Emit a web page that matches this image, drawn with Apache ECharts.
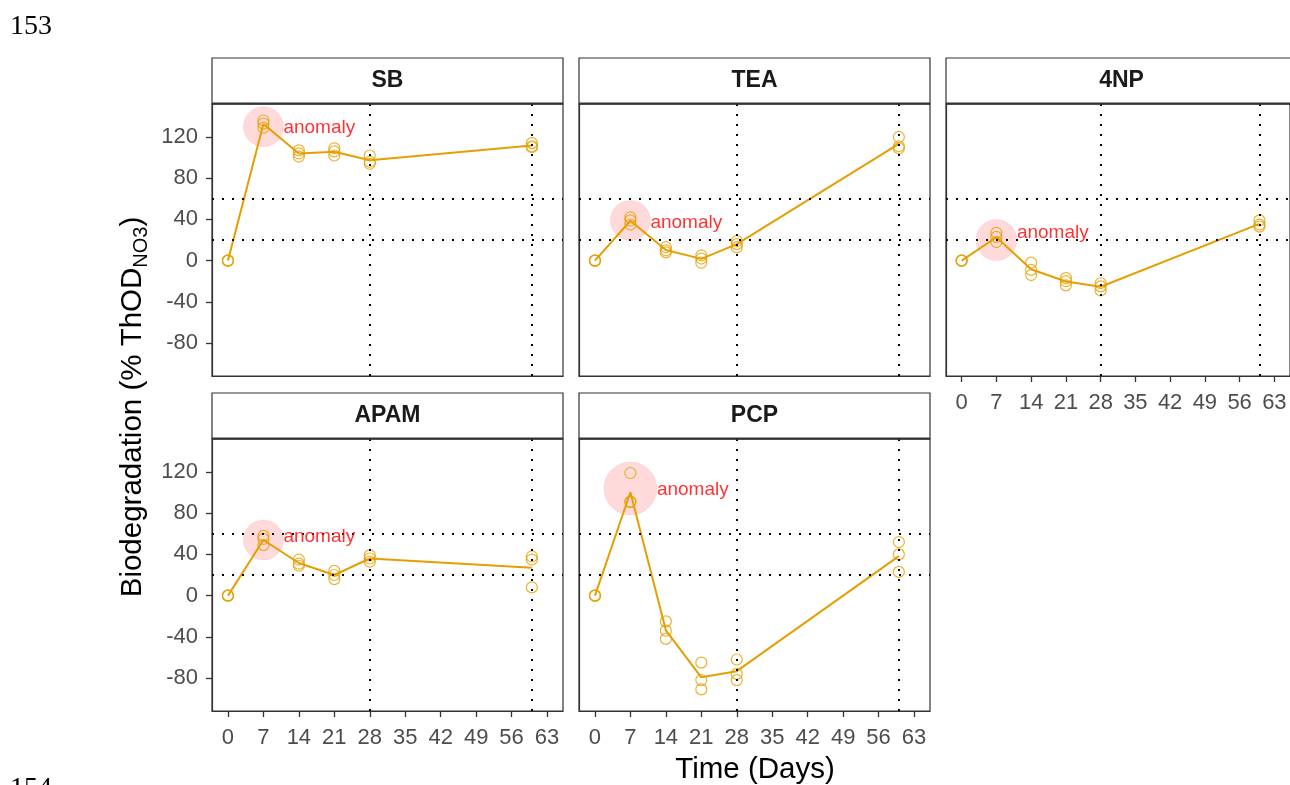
<!DOCTYPE html>
<html>
<head>
<meta charset="utf-8">
<script src="https://cdn.jsdelivr.net/npm/echarts@6/dist/echarts.min.js"></script>
<style>
html, body { margin: 0; padding: 0; background: #fff; }
#chart { width: 1290px; height: 785px; }
</style>
</head>
<body>
<div id="chart"></div>
<script>
// Sampling days and facet names
const panelNames = ['SB', 'TEA', '4NP', 'APAM', 'PCP'];
const days = [0, 7, 14, 21, 28, 60];

// Replicate measurements (% ThOD NO3) per sampling day
const sbReps   = [[0, 0, 0], [136, 133, 129], [107, 104, 101], [109, 106, 102], [102, 96, 94], [114, 111, 110]];
const teaReps  = [[0, 0, 0], [42, 39, 35], [13, 10, 8], [5, 2, -2], [19, 16, 13], [120, 111, 109]];
const np4Reps  = [[0, 0, 0], [27, 23, 18], [-2, -9, -14], [-17, -20, -24], [-22, -25, -29], [39, 35, 33]];
const apamReps = [[0, 0, 0], [58, 55, 49], [35, 31, 29], [24, 20, 16], [39, 36, 33], [38, 35, 8]];
const pcpReps  = [[0, 0, 0], [119, 91, 91], [-25, -34, -42], [-65, -82, -91], [-62, -76, -82], [52, 40, 23]];
const allReps = [sbReps, teaReps, np4Reps, apamReps, pcpReps];

// Highlighted anomalies on day 7
const anomalyDay = 7;
const anomalyCenter = [130, 39, 20, 54, 104];
const anomalySize = [40, 40, 41, 40, 53];
const anomalyTextY = [129, 37, 27, 57, 103];

// Reference lines
const hLines = [20, 60];
const vLines = [28, 60];

// Axis ticks and ranges
const xTicks = [0, 7, 14, 21, 28, 35, 42, 49, 56, 63];
const yTicks = [-80, -40, 0, 40, 80, 120];
const xRange = [-3.15, 66.15];
const yRange = [-112, 152];

const ORANGE = '#E69F00';
const FONT = '"Liberation Sans", Arial, sans-serif';

// Panel geometry: [left, top] of each plotting area
const panelPos = [[212, 104], [579, 104], [946, 104], [212, 439], [579, 439]];
const panelW = 351, panelH = 272, stripH = 46;
const showX = [false, false, true, true, true];
const showY = [true, false, false, true, false];

const grids = [], xAxes = [], yAxes = [], series = [], graphics = [];

panelNames.forEach((name, i) => {
  const [left, top] = panelPos[i];
  grids.push({
    left: left, top: top, width: panelW, height: panelH,
    show: true, borderColor: '#333', borderWidth: 1.2, backgroundColor: '#fff'
  });
  xAxes.push({
    type: 'value', gridIndex: i, min: xRange[0], max: xRange[1], position: 'bottom',
    axisLine: { show: true, onZero: false, lineStyle: { color: '#333', width: 1.2 } },
    splitLine: { show: false },
    axisTick: { show: showX[i], length: 6, lineStyle: { color: '#333', width: 1.3 }, customValues: xTicks },
    axisLabel: { show: showX[i], customValues: xTicks, color: '#4d4d4d', fontSize: 22, fontFamily: FONT, margin: 16 }
  });
  yAxes.push({
    type: 'value', gridIndex: i, min: yRange[0], max: yRange[1], position: 'left',
    axisLine: { show: true, onZero: false, lineStyle: { color: '#333', width: 1.2 } },
    splitLine: { show: false },
    axisTick: { show: showY[i], length: 6, lineStyle: { color: '#333', width: 1.3 }, customValues: yTicks },
    axisLabel: { show: showY[i], customValues: yTicks, color: '#4d4d4d', fontSize: 22, fontFamily: FONT, margin: 14 }
  });

  const reps = allReps[i];
  const points = [];
  const means = [];
  reps.forEach((vals, k) => {
    vals.forEach(v => points.push([days[k], v]));
    means.push([days[k], vals.reduce((a, b) => a + b, 0) / vals.length]);
  });

  // anomaly halo
  series.push({
    type: 'scatter', xAxisIndex: i, yAxisIndex: i, silent: true, z: 1,
    data: [[anomalyDay, anomalyCenter[i]]],
    symbol: 'circle', symbolSize: anomalySize[i],
    itemStyle: { color: 'rgba(255,0,0,0.18)', borderColor: 'rgba(235,60,70,0.12)', borderWidth: 1 }
  });
  // anomaly text
  series.push({
    type: 'scatter', xAxisIndex: i, yAxisIndex: i, silent: true, z: 5,
    data: [[anomalyDay, anomalyTextY[i]]],
    symbol: 'circle', symbolSize: anomalySize[i],
    itemStyle: { color: 'rgba(0,0,0,0)' },
    label: { show: true, position: 'right', distance: 0, formatter: 'anomaly', color: '#ff0000', fontSize: 19, fontFamily: FONT }
  });
  // reference lines
  series.push({
    type: 'line', xAxisIndex: i, yAxisIndex: i, data: [], silent: true, z: 2,
    markLine: {
      silent: true, symbol: ['none', 'none'], animation: false,
      label: { show: false },
      lineStyle: { color: '#000', type: [2, 8], width: 2, cap: 'butt' },
      emphasis: { disabled: true },
      data: hLines.map(v => ({ yAxis: v })).concat(vLines.map(v => ({ xAxis: v })))
    }
  });
  // replicate points
  series.push({
    type: 'scatter', xAxisIndex: i, yAxisIndex: i, silent: true, z: 3,
    data: points, symbol: 'circle', symbolSize: 11,
    itemStyle: { color: 'rgba(0,0,0,0)', borderColor: ORANGE, borderWidth: 1.2 }
  });
  // mean line
  series.push({
    type: 'line', xAxisIndex: i, yAxisIndex: i, silent: true, z: 4,
    data: means, showSymbol: false, symbol: 'none',
    lineStyle: { color: ORANGE, width: 2 }
  });

  // facet strip
  graphics.push({
    type: 'rect', silent: true, z: 10,
    shape: { x: left, y: top - stripH, width: panelW, height: stripH },
    style: { fill: '#fff', stroke: '#333', lineWidth: 1.2 }
  });
  graphics.push({
    type: 'rect', silent: true, z: 11,
    shape: { x: left, y: top - 1.5, width: panelW, height: 2 },
    style: { fill: '#333' }
  });
  graphics.push({
    type: 'text', silent: true, z: 12,
    x: left + panelW / 2, y: top - stripH / 2,
    style: { text: name, fill: '#1a1a1a', font: 'bold 23px ' + FONT, align: 'center', verticalAlign: 'middle' }
  });
});

// Axis titles and page numbers
graphics.push({
  type: 'text', silent: true, z: 12, x: 755, y: 770,
  style: { text: 'Time (Days)', fill: '#000', font: '29.5px ' + FONT, align: 'center', verticalAlign: 'middle' }
});
graphics.push({
  type: 'text', silent: true, z: 12, x: 133, y: 407, rotation: Math.PI / 2,
  style: {
    text: '{a|Biodegradation (% ThOD}{b|NO3}{a|)}',
    align: 'center', verticalAlign: 'middle',
    rich: {
      a: { fontSize: 29.5, fontFamily: FONT, fill: '#000', lineHeight: 36 },
      b: { fontSize: 20, fontFamily: FONT, fill: '#000', lineHeight: 13, verticalAlign: 'bottom' }
    }
  }
});
graphics.push({
  type: 'text', silent: true, z: 12, x: 10, y: 13,
  style: { text: '153', fill: '#000', font: '28px "Liberation Serif", "Times New Roman", serif', align: 'left', verticalAlign: 'top' }
});
graphics.push({
  type: 'text', silent: true, z: 12, x: 10, y: 775,
  style: { text: '154', fill: '#000', font: '28px "Liberation Serif", "Times New Roman", serif', align: 'left', verticalAlign: 'top' }
});

const chart = echarts.init(document.getElementById('chart'), null, { renderer: 'canvas' });
chart.setOption({
  animation: false,
  backgroundColor: '#fff',
  grid: grids,
  xAxis: xAxes,
  yAxis: yAxes,
  series: series,
  graphic: graphics
});
</script>
</body>
</html>
